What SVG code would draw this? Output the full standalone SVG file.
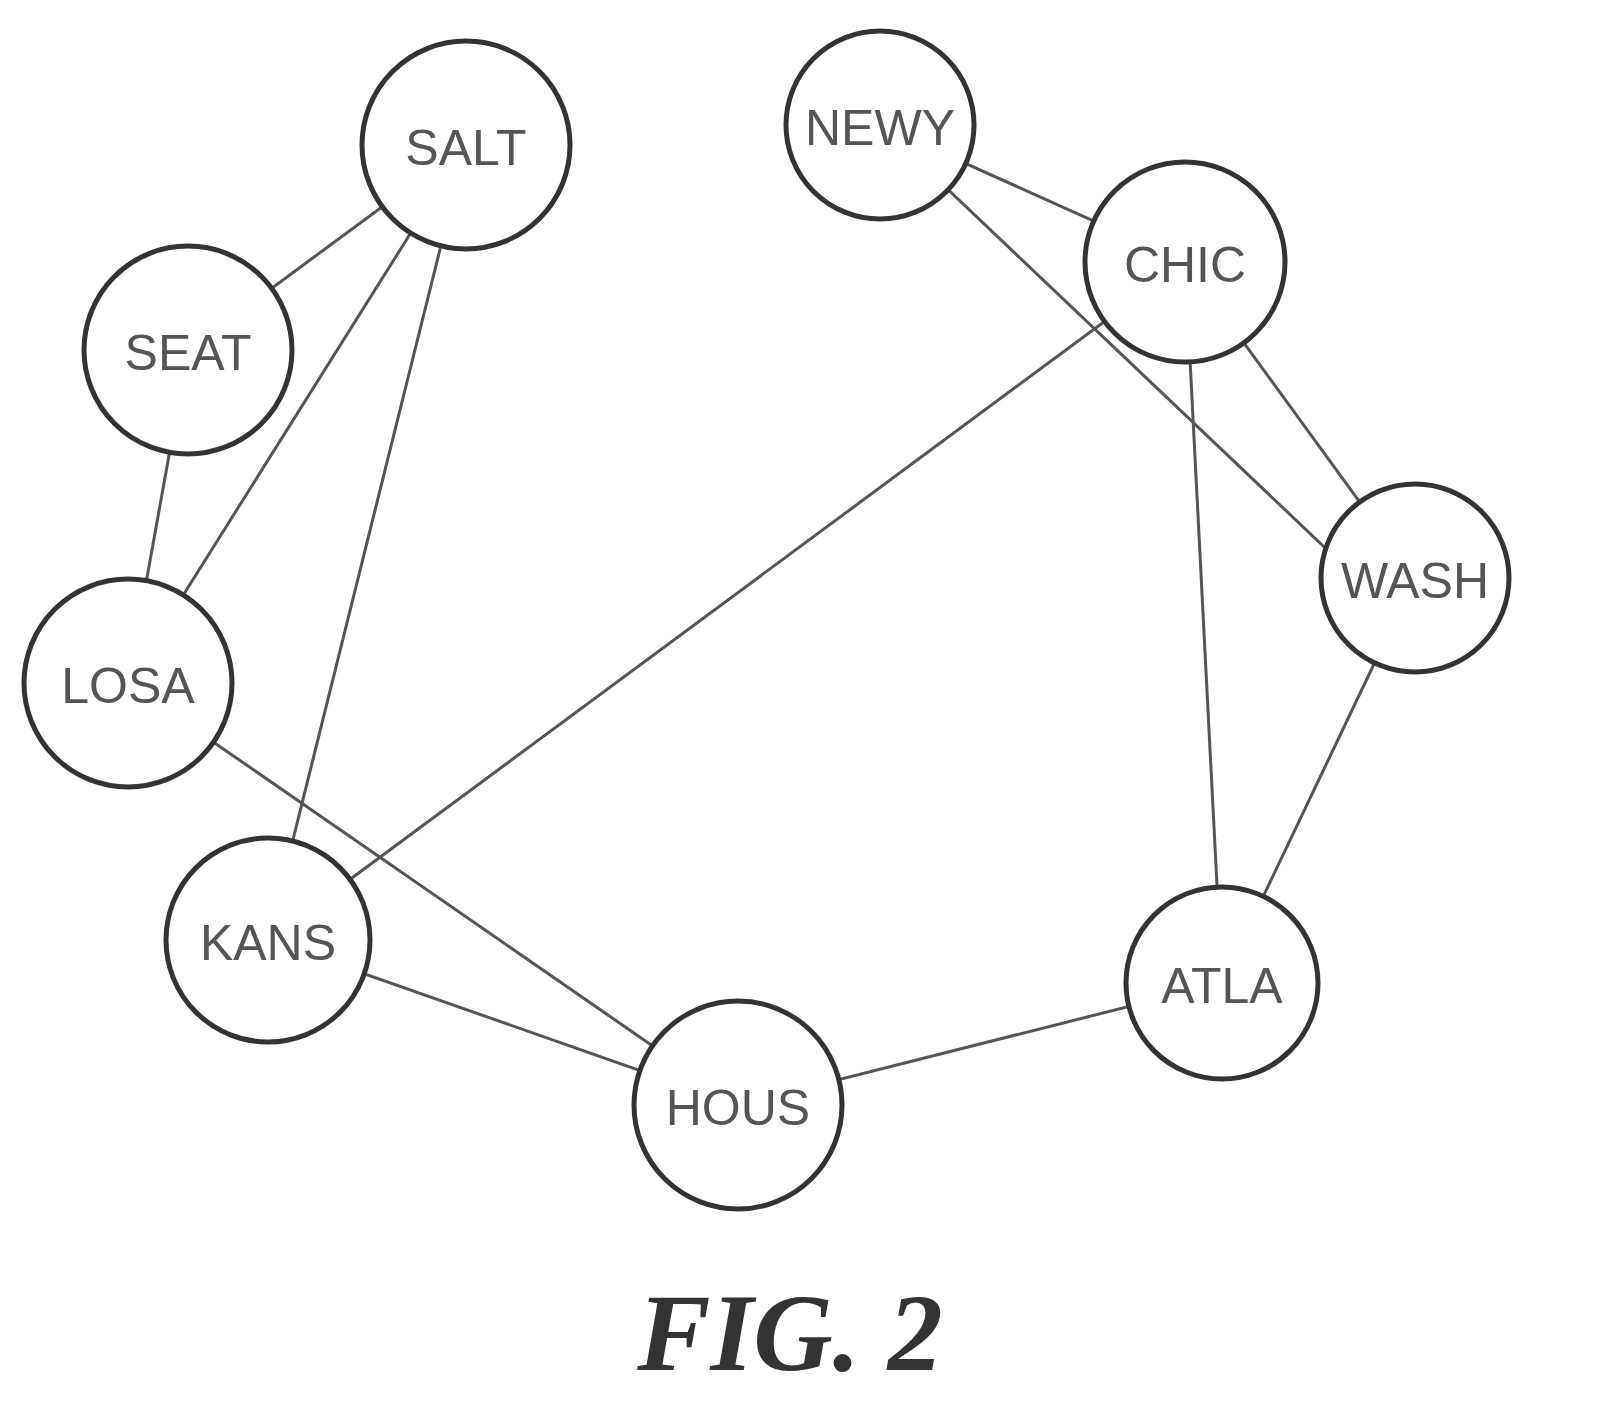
<svg xmlns="http://www.w3.org/2000/svg" width="1597" height="1404" viewBox="0 0 1597 1404">
<style>
.n circle{fill:#fff;stroke:#333;stroke-width:5}
.n text{font-family:"Liberation Sans",Arial,sans-serif;font-size:50px;fill:#555;text-anchor:middle;dominant-baseline:central}
#edges line{stroke:#555;stroke-width:3}
</style>
<rect width="1597" height="1404" fill="#fff"/>
<g id="edges">
<line x1="466" y1="145" x2="188" y2="350"/>
<line x1="466" y1="145" x2="128" y2="683"/>
<line x1="466" y1="145" x2="268" y2="940"/>
<line x1="188" y1="350" x2="128" y2="683"/>
<line x1="128" y1="683" x2="738" y2="1105"/>
<line x1="268" y1="940" x2="738" y2="1105"/>
<line x1="268" y1="940" x2="1185" y2="262"/>
<line x1="880" y1="125" x2="1185" y2="262"/>
<line x1="880" y1="125" x2="1340" y2="562"/>
<line x1="1185" y1="262" x2="1415" y2="578"/>
<line x1="1185" y1="262" x2="1222" y2="983"/>
<line x1="1415" y1="578" x2="1222" y2="983"/>
<line x1="738" y1="1105" x2="1222" y2="983"/>
</g>
<g id="SALT" class="n"><circle cx="466" cy="145" r="104"/><text x="466" y="148">SALT</text></g>
<g id="NEWY" class="n"><circle cx="880" cy="125" r="94"/><text x="880" y="128">NEWY</text></g>
<g id="CHIC" class="n"><circle cx="1185" cy="262" r="100"/><text x="1185" y="265">CHIC</text></g>
<g id="SEAT" class="n"><circle cx="188" cy="350" r="104"/><text x="188" y="353">SEAT</text></g>
<g id="WASH" class="n"><circle cx="1415" cy="578" r="94"/><text x="1415" y="581">WASH</text></g>
<g id="LOSA" class="n"><circle cx="128" cy="683" r="104"/><text x="128" y="686">LOSA</text></g>
<g id="KANS" class="n"><circle cx="268" cy="940" r="102"/><text x="268" y="943">KANS</text></g>
<g id="ATLA" class="n"><circle cx="1222" cy="983" r="96"/><text x="1222" y="986">ATLA</text></g>
<g id="HOUS" class="n"><circle cx="738" cy="1105" r="104"/><text x="738" y="1108">HOUS</text></g>
<text x="790" y="1370" font-family="Liberation Serif,serif" font-style="italic" font-weight="bold" font-size="110" fill="#333" text-anchor="middle">FIG. 2</text>
</svg>
